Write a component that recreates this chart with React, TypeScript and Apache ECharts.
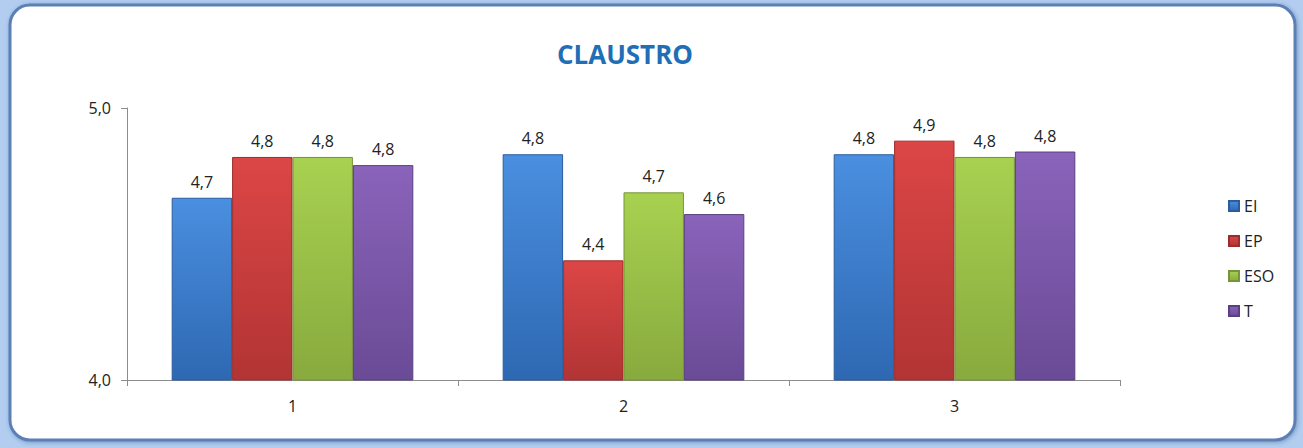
import React, { useEffect, useRef } from "react";
import * as echarts from "echarts";

const categories = ["1", "2", "3"];
const seriesNames = ["EI", "EP", "ESO", "T"];
const valuesEI = [4.67, 4.83, 4.83];
const valuesEP = [4.82, 4.44, 4.88];
const valuesESO = [4.82, 4.69, 4.82];
const valuesT = [4.79, 4.61, 4.84];
const yTicks = [4, 5];

const palette = [
  { top: "#4a8fe0", bottom: "#2e68b2", edge: "#2a5c9e" },
  { top: "#dc4646", bottom: "#b23434", edge: "#9c2d2d" },
  { top: "#a8d150", bottom: "#88aa3e", edge: "#76953a" },
  { top: "#8a63ba", bottom: "#6a4b96", edge: "#5a3f82" },
];

const fmt = (v: number) => v.toFixed(1).replace(".", ",");

export default function App() {
  const ref = useRef<HTMLDivElement>(null);
  useEffect(() => {
    document.body.style.margin = "0";
    if (!ref.current) return;
    const chart = echarts.init(ref.current, null, { renderer: "svg" });
    const all = [valuesEI, valuesEP, valuesESO, valuesT];
    chart.setOption({
      animation: false,
      backgroundColor: "#b2cdef",
      graphic: [
        {
          type: "rect",
          z: -10,
          silent: true,
          shape: { x: 10, y: 5, width: 1285, height: 435, r: 20 },
          style: {
            fill: "#ffffff",
            stroke: "#5b80b6",
            lineWidth: 3,
            shadowBlur: 4,
            shadowColor: "rgba(40,70,120,0.4)",
            shadowOffsetX: 1,
            shadowOffsetY: 1,
          },
        },
      ],
      title: {
        text: "CLAUSTRO",
        left: 620,
        top: 36,
        textAlign: "center",
        textStyle: {
          fontFamily: "Open Sans",
          fontWeight: "bold",
          fontSize: 26,
          color: "#1f6eb6",
        },
      },
      legend: {
        orient: "vertical",
        left: 1223,
        top: 193,
        itemWidth: 10,
        itemHeight: 10,
        itemGap: 19,
        icon: "rect",
        data: seriesNames,
        textStyle: { fontFamily: "Open Sans", fontSize: 16, color: "#222" },
      },
      grid: { left: 127, right: 183, top: 108, bottom: 68, containLabel: false },
      xAxis: {
        type: "category",
        data: categories,
        axisLine: { lineStyle: { color: "#8c8c8c", width: 1 } },
        axisTick: { show: true, inside: false, length: 6, lineStyle: { color: "#8c8c8c" } },
        axisLabel: { fontFamily: "Open Sans", fontSize: 16, color: "#222", margin: 18 },
      },
      yAxis: {
        type: "value",
        min: yTicks[0],
        max: yTicks[1],
        interval: 1,
        splitLine: { show: false },
        axisLine: { show: true, lineStyle: { color: "#8c8c8c", width: 1 } },
        axisTick: { show: true, inside: false, length: 6, lineStyle: { color: "#8c8c8c" } },
        axisLabel: {
          fontFamily: "Open Sans",
          fontSize: 16,
          color: "#222",
          margin: 16,
          formatter: (v: number) => fmt(v),
        },
      },
      series: seriesNames.map((name, i) => ({
        name,
        type: "bar",
        data: all[i],
        barGap: "0%",
        barCategoryGap: "27%",
        itemStyle: {
          color: new echarts.graphic.LinearGradient(0, 0, 0, 1, [
            { offset: 0, color: palette[i].top },
            { offset: 1, color: palette[i].bottom },
          ]),
          borderColor: palette[i].edge,
          borderWidth: 1,
        },
        label: {
          show: true,
          position: "top",
          distance: 8,
          fontFamily: "Open Sans",
          fontSize: 16,
          color: "#222",
          formatter: (p: any) => fmt(p.value),
        },
      })),
    });
    return () => chart.dispose();
  }, []);
  return <div ref={ref} style={{ width: 1303, height: 448 }} />;
}
